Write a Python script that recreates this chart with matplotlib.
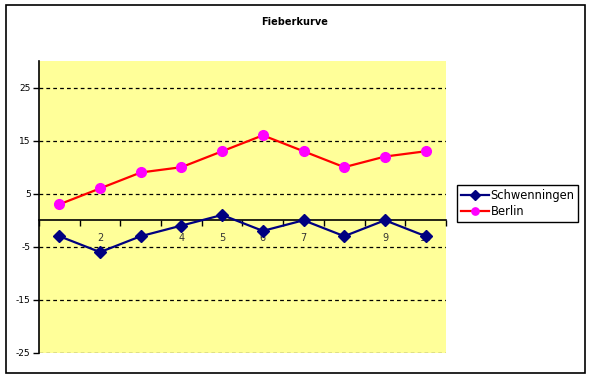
import matplotlib
matplotlib.use("Agg")
import matplotlib.pyplot as plt
from matplotlib.patches import Rectangle

title = "Fieberkurve"
categories = [1, 2, 3, 4, 5, 6, 7, 8, 9, 10]
schwenningen = [-3, -6, -3, -1, 1, -2, 0, -3, 0, -3]
berlin = [3, 6, 9, 10, 13, 16, 13, 10, 12, 13]
yticks = [-25, -15, -5, 5, 15, 25]

plt.rcParams['font.family'] = ['DejaVu Sans']
W, H = 589, 378
fig = plt.figure(figsize=(W / 100, H / 100), dpi=100)
fig.patch.set_facecolor('white')

# outer chart border
fig.patches.append(Rectangle((6 / W, 1 - 373 / H), (585 - 6) / W, (373 - 5) / H,
                             transform=fig.transFigure, fill=False,
                             edgecolor='black', linewidth=1.2))

ax = fig.add_axes([39 / W, 1 - 353 / H, (446 - 39) / W, (353 - 61) / H])
ax.set_facecolor('#FFFF99')
ax.set_xlim(0.5, 10.5)
ax.set_ylim(-25, 30)

for s in ['top', 'right']:
    ax.spines[s].set_visible(False)
ax.spines['bottom'].set_position(('data', 0))
ax.spines['left'].set_linewidth(1.2)
ax.spines['bottom'].set_linewidth(1.2)

ax.set_yticks(yticks)
ax.set_yticklabels([str(v) for v in yticks], fontsize=6.5)
ax.tick_params(axis='y', direction='out', length=4, width=1, pad=2)
ax.yaxis.grid(True, linestyle=(0, (3, 2.5)), color='black', linewidth=0.9)
ax.set_axisbelow(True)

ax.set_xticks(categories)
ax.set_xticklabels([str(c) for c in categories], fontsize=7, color='#333333')
ax.tick_params(axis='x', which='major', length=0, pad=9)
ax.set_xticks([c + 0.5 for c in [0] + categories], minor=True)
ax.tick_params(axis='x', which='minor', direction='out', length=4, width=1)

ax.plot(categories, schwenningen, color='#000080', linewidth=1.6,
        marker='D', markersize=6.5, markerfacecolor='#000080',
        markeredgecolor='#000080', label='Schwenningen', zorder=3, clip_on=False)
ax.plot(categories, berlin, color='#FF0000', linewidth=1.6,
        marker='o', markersize=7, markerfacecolor='#FF00FF',
        markeredgecolor='#FF00FF', label='Berlin', zorder=3, clip_on=False)

fig.text(295 / W, 1 - 22 / H, title, ha='center', va='center',
         fontsize=7, fontweight='bold')

leg = fig.legend(loc='upper left', bbox_to_anchor=(457 / W, 1 - 185 / H),
                 bbox_transform=fig.transFigure, borderaxespad=0,
                 fontsize=8.3, frameon=True, fancybox=False, framealpha=1,
                 edgecolor='black', handlelength=2.4, handletextpad=0.15,
                 borderpad=0.35, labelspacing=0.25, markerscale=0.75)
leg.get_frame().set_linewidth(1.0)

fig.savefig('out.png', dpi=100, facecolor='white')
